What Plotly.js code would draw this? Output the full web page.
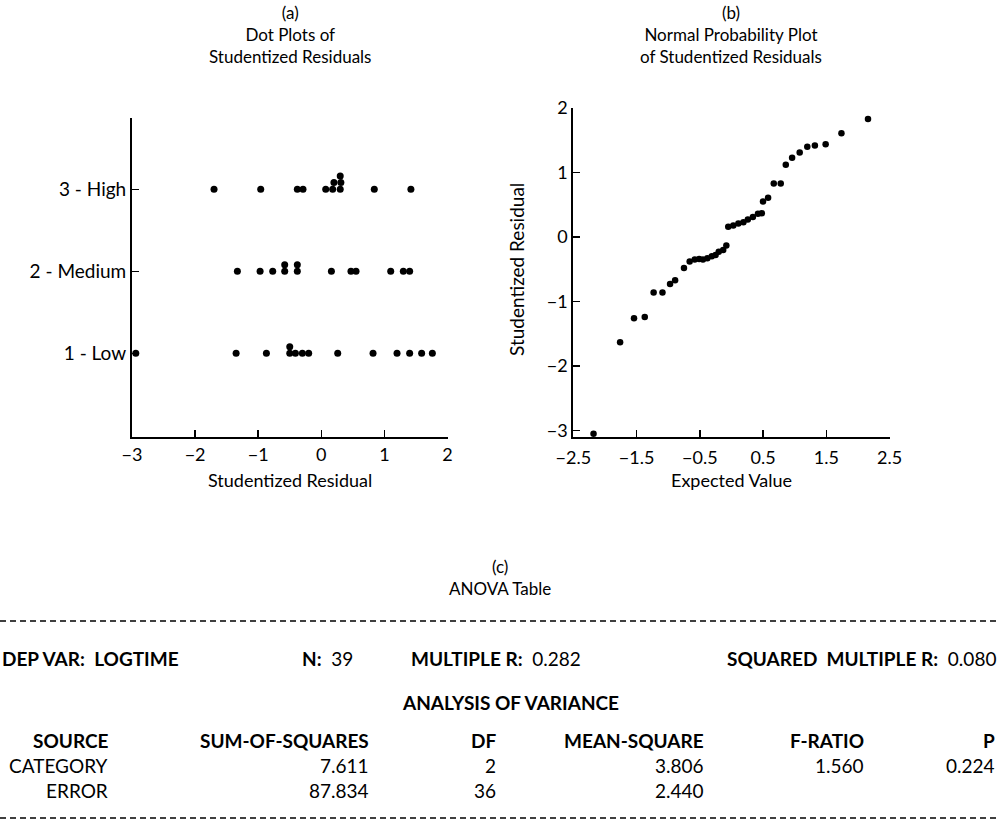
<!DOCTYPE html>
<html><head><meta charset="utf-8">
<script src="https://cdn.plot.ly/plotly-3.0.1.min.js"></script>
<style>html,body{margin:0;padding:0;background:#fff}</style>
</head><body><div id="chart" style="width:999px;height:828px"></div>
<script>
// ---------- (a) Dot plots of studentized residuals ----------
const groupLabels = ["1 - Low", "2 - Medium", "3 - High"];
const lowResiduals = [-2.94, -1.35, -0.87, -0.50, -0.50, -0.41, -0.30, -0.20, 0.26, 0.82, 1.20, 1.40, 1.59, 1.76];
const mediumResiduals = [-1.33, -0.97, -0.77, -0.58, -0.58, -0.38, -0.38, 0.16, 0.47, 0.55, 1.10, 1.30, 1.40];
const highResiduals = [-1.70, -0.96, -0.38, -0.29, 0.07, 0.18, 0.20, 0.30, 0.31, 0.30, 0.84, 1.42];
const dotXTicks = [-3, -2, -1, 0, 1, 2];

// ---------- (b) Normal probability plot ----------
const expectedValues = [-2.18, -1.76, -1.54, -1.37, -1.23, -1.09, -0.97, -0.89, -0.75, -0.66,
  -0.58, -0.51, -0.45, -0.38, -0.31, -0.25, -0.20, -0.13, -0.08, -0.05,
  0.03, 0.11, 0.19, 0.26, 0.34, 0.42, 0.48, 0.50, 0.58, 0.67,
  0.78, 0.86, 0.96, 1.08, 1.20, 1.32, 1.49, 1.74, 2.16];
const studentizedResiduals = [-3.05, -1.63, -1.26, -1.24, -0.86, -0.86, -0.73, -0.67, -0.48, -0.38,
  -0.35, -0.34, -0.35, -0.33, -0.30, -0.28, -0.23, -0.20, -0.13, 0.16,
  0.18, 0.21, 0.23, 0.27, 0.31, 0.36, 0.37, 0.55, 0.61, 0.83,
  0.83, 1.12, 1.23, 1.31, 1.40, 1.42, 1.44, 1.61, 1.83];
const probXTicks = [-2.5, -1.5, -0.5, 0.5, 1.5, 2.5];
const probYTicks = [-3, -2, -1, 0, 1, 2];

// ---------- (c) ANOVA table ----------
const depVar = "LOGTIME";
const nObs = "39";
const multipleR = "0.282";
const squaredMultipleR = "0.080";
const tableHeaders = ["SOURCE", "SUM-OF-SQUARES", "DF", "MEAN-SQUARE", "F-RATIO", "P"];
const sources = ["CATEGORY", "ERROR"];
const sumOfSquares = ["7.611", "87.834"];
const dfValues = ["2", "36"];
const meanSquares = ["3.806", "2.440"];
const fRatios = ["1.560", ""];
const pValues = ["0.224", ""];

// ---------- helpers ----------
const W = 999, H = 828;
const px = x => x / W;
const py = y => 1 - y / H;
const FONT = "Lato, 'Open Sans', sans-serif";

function stackLevels(vals) {
  return vals.map((v, i) => vals.slice(0, i).filter(w => Math.abs(w - v) < 0.05).length);
}
const groups = [lowResiduals, mediumResiduals, highResiduals];
const dotTraces = groups.map((vals, gi) => {
  const lv = stackLevels(vals);
  return {
    type: "scatter", mode: "markers", xaxis: "x", yaxis: "y",
    x: vals, y: vals.map((v, i) => (gi + 1) + lv[i] * 0.082),
    marker: {color: "#000", size: 7},
    cliponaxis: false, showlegend: false, hoverinfo: "x"
  };
});
const probTrace = {
  type: "scatter", mode: "markers", xaxis: "x2", yaxis: "y2",
  x: expectedValues, y: studentizedResiduals,
  marker: {color: "#000", size: 6.5},
  cliponaxis: false, showlegend: false
};

const axisCommon = {
  showline: true, linecolor: "#000", linewidth: 2, ticks: "inside", ticklen: 7,
  tickwidth: 1.5, tickcolor: "#000", showgrid: false, zeroline: false, fixedrange: true,
  tickfont: {family: FONT, size: 18, color: "#000"}, automargin: false
};

const annotations = [];
function txt(text, x, y, opts, size) {
  annotations.push(Object.assign({
    text: text, x: px(x), y: py(y), xref: "paper", yref: "paper",
    showarrow: false, xanchor: "center", yanchor: "middle",
    font: {family: FONT, size: size || 17, color: "#000"}
  }, opts || {}));
}
// plot titles
txt("(a)<br>Dot Plots of<br>Studentized Residuals", 290, 35);
txt("(b)<br>Normal Probability Plot<br>of Studentized Residuals", 731, 35);
// axis titles
txt("Studentized Residual", 290, 480, null, 18);
txt("Expected Value", 731, 480, null, 18);
txt("Studentized Residual", 516, 270, {textangle: -90}, 19);
// table
const TS = 19;
txt("(c)<br>ANOVA Table", 500, 577);
const rowDep = 658;
txt("<b>DEP VAR:  " + depVar + "</b>", 0, rowDep, {xanchor: "left"}, TS);
txt("<b>N:</b>  " + nObs, 300, rowDep, {xanchor: "left"}, TS);
txt("<b>MULTIPLE R:</b>  " + multipleR, 409, rowDep, {xanchor: "left"}, TS);
txt("<b>SQUARED  MULTIPLE R:</b>  " + squaredMultipleR, 998, rowDep, {xanchor: "right"}, TS);
txt("<b>ANALYSIS OF VARIANCE</b>", 510, 702, null, TS);
const colRight = [110, 371, 498, 706, 866, 997];
tableHeaders.forEach((h, i) => txt("<b>" + h + "</b>", colRight[i], 740, {xanchor: "right"}, TS));
const columns = [sources, sumOfSquares, dfValues, meanSquares, fRatios, pValues];
const rowY = [765, 790];
columns.forEach((col, ci) => col.forEach((v, ri) => {
  if (v !== "") txt(v, colRight[ci], rowY[ri], {xanchor: "right"}, TS);
}));

const shapes = [621, 818].map(y => ({
  type: "line", xref: "paper", yref: "paper", x0: 0, x1: 1, y0: py(y), y1: py(y),
  line: {color: "#000", width: 1.5, dash: "6px,4px"}
}));

const layout = {
  width: W, height: H, margin: {l: 0, r: 0, t: 0, b: 0},
  paper_bgcolor: "#fff", plot_bgcolor: "#fff", showlegend: false,
  font: {family: FONT, color: "#000"},
  xaxis: Object.assign({}, axisCommon, {domain: [px(132), px(447.5)], range: [-3, 2], tickvals: dotXTicks, anchor: "y"}),
  yaxis: Object.assign({}, axisCommon, {domain: [py(437), py(118)], range: [-0.02, 3.87], tickvals: [1, 2, 3], ticktext: groupLabels, anchor: "x",
    tickfont: {family: FONT, size: 19, color: "#000"}}),
  xaxis2: Object.assign({}, axisCommon, {domain: [px(573.3), px(889.5)], range: [-2.5, 2.5], tickvals: probXTicks, anchor: "y2", ticklabelstandoff: 3}),
  yaxis2: Object.assign({}, axisCommon, {domain: [py(437), py(108)], range: [-3.1, 2], tickvals: probYTicks, anchor: "x2"}),
  annotations: annotations, shapes: shapes
};

Plotly.newPlot("chart", dotTraces.concat([probTrace]), layout, {displayModeBar: false, staticPlot: true});
</script></body></html>
